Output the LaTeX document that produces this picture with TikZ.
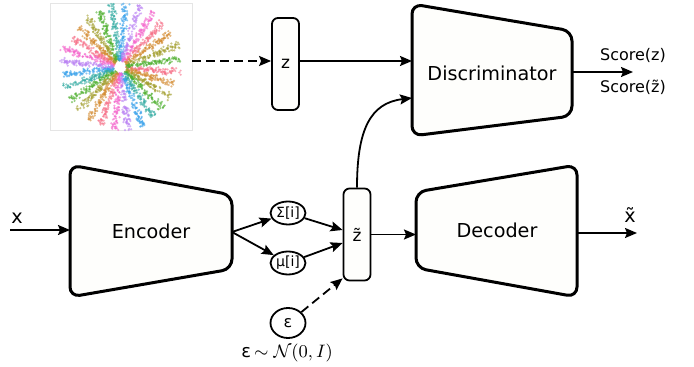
\documentclass[tikz,border=0pt]{standalone}
\usepackage{fontspec}
\setmainfont{DejaVu Sans}
\usetikzlibrary{arrows.meta,shapes.geometric}
\definecolor{blockfill}{HTML}{FEFEFC}
\definecolor{ray0}{HTML}{F77189}
\definecolor{ray1}{HTML}{D58C32}
\definecolor{ray2}{HTML}{A4A031}
\definecolor{ray3}{HTML}{50B131}
\definecolor{ray4}{HTML}{36ADA4}
\definecolor{ray5}{HTML}{3BA3EC}
\definecolor{ray6}{HTML}{BB83F4}
\definecolor{ray7}{HTML}{F565CC}
\begin{document}
\begin{tikzpicture}[x=0.5pt,y=-0.5pt,
    block/.style={line width=1.5pt, rounded corners=5pt, fill=blockfill},
    latent/.style={draw, line width=0.9pt, rounded corners=3pt, fill=blockfill, minimum width=13.5pt, minimum height=46pt, inner sep=0pt, font=\fontsize{8.5}{9}\selectfont},
    param/.style={draw, ellipse, line width=0.9pt, minimum width=17.5pt, minimum height=11.5pt, inner sep=0pt, font=\fontsize{7}{8}\selectfont},
    arr/.style={-{Stealth[length=6pt,width=5pt,inset=1pt]}, line width=0.9pt},
    dash line/.style={dash pattern=on 4.5pt off 2.5pt},
    big/.style={font=\fontsize{9.6}{11}\selectfont},
    small/.style={font=\fontsize{8}{9}\selectfont}]
  \useasboundingbox (0,0) rectangle (694,367);

  % prior samples
  \draw[gray!20, line width=0.4pt, fill=white] (50,3) rectangle (192,130);
  \begin{scope}[shift={(120,67)}]
    \pgfmathsetseed{11}
    \foreach \k in {0,...,27}{
      \pgfmathtruncatemacro{\ci}{mod(\k,8)}
      \pgfmathsetmacro{\ang}{\k*360/28+5}
      \pgfmathsetmacro{\len}{50+10*rnd}
      \foreach \j in {1,...,110}{
        \pgfmathsetmacro{\rr}{6+\len*rnd}
        \pgfmathsetmacro{\ww}{(1.1+0.022*\rr)*(rand+rand)}
        \fill[ray\ci, opacity=0.6] (\ang:\rr) ++(\ang+90:\ww) circle (1.2);
      }
    }
  \end{scope}
  \coordinate (plot-out) at (192,61);

  % networks
  \draw[block] (70,165) -- (232,195) -- (232,269) -- (70,297) -- cycle;
  \node[big] (enc) at (151,231) {Encoder};
  \draw[block] (416,192) -- (577,165) -- (577,297) -- (416,268) -- cycle;
  \node[big] (dec) at (497,230) {Decoder};
  \draw[block] (412,4) -- (572,31) -- (572,116) -- (412,136) -- cycle;
  \node[big] (disc) at (492,73) {Discriminator};

  \coordinate (xin) at (10,230);
  \coordinate (enc-in) at (70,230);
  \coordinate (enc-out) at (232,232);
  \coordinate (dec-in) at (416,234.5);
  \coordinate (dec-out) at (577,233);
  \coordinate (xout) at (637,233);
  \coordinate (disc-in1) at (412,61);
  \coordinate (disc-in2) at (412,98);
  \coordinate (disc-out) at (572,72);
  \coordinate (score) at (633,72);

  % latent codes
  \node[latent] (z) at (285.5,64) {z};
  \node[latent] (zt) at (357,234.5) {z̃};
  \node[param] (sig) at (288,213) {Σ[i]};
  \node[param] (mu) at (288,263) {μ[i]};
  \node[param, minimum height=15pt, font=\fontsize{8}{9}\selectfont] (eps) at (288,323) {ε};

  % labels
  \node[big] (xlab) at (17,218) {x};
  \node[big] (xtlab) at (630,215) {x̃};
  \node[small] (sz) at (633,55) {Score(z)};
  \node[small] (szt) at (633,87) {Score(z̃)};
  \node[font=\fontsize{9}{10}\selectfont] (epslab) at (287,353) {ε\,$\sim\mathcal{N}(0,I)$};

  % connectors
  \draw[arr] (xin) -- (enc-in);
  \draw[arr] (enc-out) -- (sig);
  \draw[arr] (enc-out) -- (mu);
  \draw[arr] (sig) -- ([yshift=2.25pt]zt.west);
  \draw[arr] (mu) -- ([yshift=-4.25pt]zt.west);
  \draw[arr, dash line] (eps) -- ([yshift=1.5pt]zt.south west);
  \draw[arr] (zt.east) -- (dec-in);
  \draw[arr] (dec-out) -- (xout);
  \draw[arr, dash line] (plot-out) -- ([yshift=1.5pt]z.west);
  \draw[arr] ([yshift=1.5pt]z.east) -- (disc-in1);
  \draw[arr] (zt.north) .. controls (357,130) and (370,103) .. (disc-in2);
  \draw[arr] (disc-out) -- (score);
\end{tikzpicture}
\end{document}
